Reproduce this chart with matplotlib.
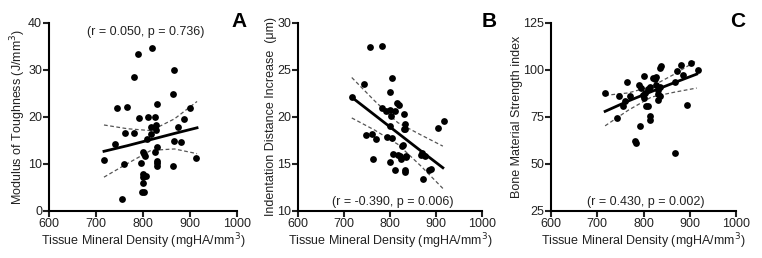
import numpy as np
import matplotlib.pyplot as plt

plt.rcParams['font.family'] = ['Liberation Sans', 'DejaVu Sans']
plt.rcParams['font.size'] = 9

# Tissue mineral density (x) and each outcome
tmd_a = [717, 741, 745, 755, 760, 762, 767, 781, 781, 790, 791, 796, 800, 802, 800, 801,
         800, 798, 803, 805, 807, 809, 811, 816, 818, 820, 825, 825, 828, 828, 830, 830,
         829, 830, 830, 864, 867, 864, 867, 875, 881, 887, 899, 913]
toughness = [10.8, 14.2, 22.0, 2.5, 10.1, 16.5, 22.1, 28.6, 16.6, 33.4, 19.7, 10.3, 12.6, 12.1, 7.9, 7.3,
             6.0, 4.0, 4.1, 11.6, 7.5, 15.3, 20.1, 17.8, 16.3, 34.7, 20.0, 12.5, 17.3, 18.3, 13.7, 22.8,
             10.7, 10.2, 9.5, 24.9, 30.0, 9.6, 14.8, 17.9, 14.6, 19.6, 22.0, 11.2]

tmd_b = [717, 743, 747, 756, 761, 764, 770, 783, 783, 791, 793, 800, 804, 801, 803, 801,
         801, 804, 807, 811, 812, 816, 820, 818, 822, 823, 826, 828, 830, 830, 833, 833,
         832, 833, 834, 835, 867, 870, 871, 877, 885, 890, 904, 918]
indent = [22.1, 23.5, 18.1, 27.4, 18.2, 15.5, 17.7, 27.6, 21.0, 20.6, 17.9, 22.7, 24.1, 20.7, 20.1, 19.0,
          15.2, 17.8, 16.1, 14.4, 20.6, 21.5, 21.3, 16.0, 15.8, 15.5, 16.9, 17.0, 20.3, 18.7, 18.7, 19.3,
          14.4, 14.2, 15.7, 15.9, 16.0, 16.2, 13.4, 15.9, 14.4, 14.5, 18.8, 19.6]

tmd_c = [717, 742, 748, 756, 760, 764, 771, 782, 784, 792, 790, 795, 798, 802, 803, 802,
         805, 809, 813, 815, 810, 815, 821, 825, 828, 828, 831, 832, 832, 835, 838, 835,
         835, 869, 869, 872, 880, 885, 893, 903, 918]
bmsi = [88.0, 74.4, 86.3, 80.6, 83.3, 93.7, 85.9, 62.0, 61.4, 70.3, 92.1, 90.4, 86.8, 97.0, 88.0, 85.0,
        80.6, 80.6, 73.5, 75.3, 89.8, 90.9, 95.7, 95.3, 96.2, 92.1, 89.5, 87.3, 84.1, 101.0, 101.9, 90.9,
        85.9, 56.1, 93.4, 99.6, 102.8, 97.5, 81.5, 103.7, 100.1]

# regression line and 95% confidence band, read at a few x positions
band_x = [717, 767, 817, 867, 915]
fit_a = [12.7, 13.9, 15.2, 16.5, 17.7]
upper_a = [18.3, 17.5, 17.1, 19.6, 23.3]
lower_a = [7.2, 10.1, 12.9, 13.2, 12.2]
fit_b = [22.1, 20.2, 18.3, 16.4, 14.6]
upper_b = [24.2, 21.7, 19.4, 18.1, 16.9]
lower_b = [19.9, 18.6, 17.1, 14.8, 12.4]
fit_c = [78.0, 83.5, 88.5, 93.3, 97.8]
upper_c = [86.5, 87.8, 91.2, 97.8, 105.0]
lower_c = [70.3, 78.6, 85.6, 88.2, 90.4]

panels = [
    (tmd_a, toughness, fit_a, upper_a, lower_a, 'Modulus of Toughness (J/mm$^3$)',
     (0, 40), [0, 10, 20, 30, 40], '(r = 0.050, p = 0.736)', 38.1, 'A'),
    (tmd_b, indent, fit_b, upper_b, lower_b, 'Indentation Distance Increase  (\u03bcm)',
     (10, 30), [10, 15, 20, 25, 30], '(r = -0.390, p = 0.006)', 11.0, 'B'),
    (tmd_c, bmsi, fit_c, upper_c, lower_c, 'Bone Material Strength index',
     (25, 125), [25, 50, 75, 100, 125], '(r = 0.430, p = 0.002)', 29.9, 'C'),
]
lefts = [0.0643, 0.391, 0.7231]
widths = [0.2467, 0.2415, 0.2428]
letter_x = [1.053, 1.08, 1.05]

fig = plt.figure(figsize=(7.62, 2.58), dpi=100)
for i, (x, y, fit, up, lo, ylab, ylim, yt, stat, stat_y, letter) in enumerate(panels):
    ax = fig.add_axes([lefts[i], 0.1822, widths[i], 0.7287])
    ax.scatter(x, y, s=24, color='black', zorder=3, linewidths=0)
    ax.plot(band_x, fit, color='black', lw=2)
    ax.plot(band_x, up, color='#555555', lw=0.9, ls=(0, (3, 2)))
    ax.plot(band_x, lo, color='#555555', lw=0.9, ls=(0, (3, 2)))
    ax.set_xlim(600, 1000)
    ax.set_ylim(*ylim)
    ax.set_xticks([600, 700, 800, 900, 1000])
    ax.set_yticks(yt)
    for s in ['top', 'right']:
        ax.spines[s].set_visible(False)
    for s in ['left', 'bottom']:
        ax.spines[s].set_linewidth(1.5)
    ax.tick_params(width=1.5, length=4, labelsize=9, colors='#222222', pad=1)
    ax.set_xlabel('Tissue Mineral Density (mgHA/mm$^3$)', fontsize=9, color='#222222', labelpad=1)
    ax.set_ylabel(ylab, fontsize=9, color='#222222', labelpad=0)
    ax.text(805, stat_y, stat, ha='center', va='center', fontsize=9, color='#222222')
    ax.text(letter_x[i], 1.01, letter, transform=ax.transAxes, ha='right', va='center',
            fontsize=15, fontweight='bold')

fig.savefig('out.png', dpi=100)
